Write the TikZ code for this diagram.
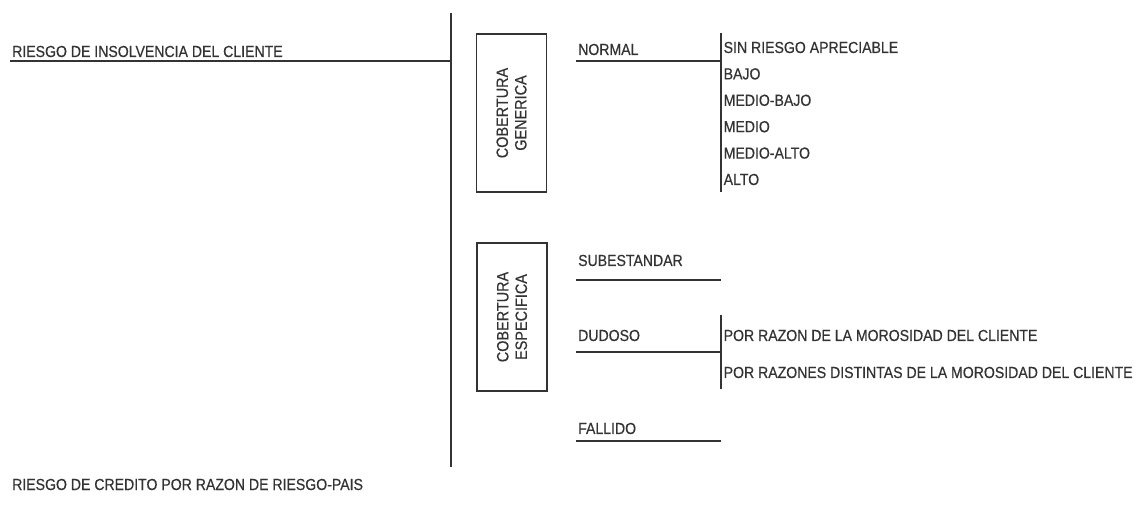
\documentclass[tikz,border=0pt]{standalone}
\usepackage{fontspec}
\setmainfont{Liberation Sans}[FakeStretch=0.88,FakeBold=0.5]
\usepackage{tikz}
\usetikzlibrary{positioning}
\definecolor{inkgray}{rgb}{0.2,0.2,0.2}
\tikzset{
  rule/.style={draw=inkgray,line width=1.3pt},
  heading/.style={anchor=base west,inner sep=0pt,text=inkgray,font=\fontsize{16}{18}\selectfont},
  grade/.style={heading,xshift=2.5pt},
  cover/.style={draw=inkgray,line width=1.3pt,rotate=90,minimum height=70pt,align=center,inner sep=0pt,text=inkgray,font=\fontsize{16.4}{18.5}\selectfont}
}

\begin{document}
\begin{tikzpicture}[x=1pt,y=-1pt]
  \useasboundingbox (0,0) rectangle (1141,510);

  % Main trunk
  \coordinate (trunkTop) at (451,13);
  \coordinate (trunkBot) at (451,467);
  \draw[rule] (trunkTop) -- (trunkBot);

  % Left-hand risks
  \node[heading] (insolv) at (12,57) {RIESGO DE INSOLVENCIA DEL CLIENTE};
  \node[heading] (pais) at (12,490) {RIESGO DE CREDITO POR RAZON DE RIESGO-PAIS};
  \coordinate (insolvEnd) at (10,61);
  \draw[rule] (insolvEnd) -- (insolvEnd -| trunkTop);

  % Coverage boxes
  \node[cover,minimum width=158pt] (generic) at (511.5,113) {COBERTURA\\GENERICA};
  \node[cover,minimum width=148pt] (specific) at (512,317) {COBERTURA\\ESPECIFICA};

  % Generic coverage
  \node[heading] (normal) at (578,55) {NORMAL};
  \coordinate (normalStart) at (576,61);
  \coordinate (normalTop) at (721,33);
  \coordinate (normalBot) at (721,192);
  \draw[rule] (normalStart) -- (normalStart -| normalTop);
  \draw[rule] (normalTop) -- (normalBot);
  \node[grade] (sinriesgo) at (721,53) {SIN RIESGO APRECIABLE};
  \node[grade] (bajo) at (721,79.4) {BAJO};
  \node[grade] (mediobajo) at (721,105.8) {MEDIO-BAJO};
  \node[grade] (medio) at (721,132.2) {MEDIO};
  \node[grade] (medioalto) at (721,158.6) {MEDIO-ALTO};
  \node[grade] (alto) at (721,185) {ALTO};

  % Specific coverage
  \node[heading] (subest) at (578,266) {SUBESTANDAR};
  \coordinate (subestStart) at (576,280);
  \draw[rule] (subestStart) -- (subestStart -| normalTop);

  \node[heading] (dudoso) at (578,341) {DUDOSO};
  \coordinate (dudosoStart) at (576,352);
  \coordinate (dudosoTop) at (721,315);
  \coordinate (dudosoBot) at (721,389);
  \draw[rule] (dudosoStart) -- (dudosoStart -| dudosoTop);
  \draw[rule] (dudosoTop) -- (dudosoBot);
  \node[grade] (morosidad) at (721,341) {POR RAZON DE LA MOROSIDAD DEL CLIENTE};
  \node[grade] (distintas) at (721,378) {POR RAZONES DISTINTAS DE LA MOROSIDAD DEL CLIENTE};

  \node[heading] (fallido) at (578,434) {FALLIDO};
  \coordinate (fallidoStart) at (576,441);
  \draw[rule] (fallidoStart) -- (fallidoStart -| normalTop);
\end{tikzpicture}
\end{document}
